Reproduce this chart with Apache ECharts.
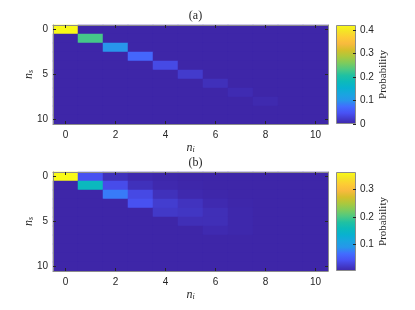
<!DOCTYPE html>
<html>
<head>
<meta charset="utf-8">
<script src="https://cdn.jsdelivr.net/npm/echarts@6/dist/echarts.min.js"></script>
<style>html,body{margin:0;padding:0;background:#fff}#c{width:415px;height:310px}</style>
</head>
<body>
<div id="c"></div>
<script>
// ---- data ----
var nLabels = ['0','1','2','3','4','5','6','7','8','9','10'];
var panelTitles = ['(a)', '(b)'];
// rows: n_s = 0..10, columns: n_i = 0..10
var probA = [
  [0.420,0,0,0,0,0,0,0,0,0,0],
  [0,0.228,0,0,0,0,0,0,0,0,0],
  [0,0,0.100,0,0,0,0,0,0,0,0],
  [0,0,0,0.068,0,0,0,0,0,0,0],
  [0,0,0,0,0.038,0,0,0,0,0,0],
  [0,0,0,0,0,0.022,0,0,0,0,0],
  [0,0,0,0,0,0,0.011,0,0,0,0],
  [0,0,0,0,0,0,0,0.006,0,0,0],
  [0,0,0,0,0,0,0,0,0.004,0,0],
  [0,0,0,0,0,0,0,0,0,0,0],
  [0,0,0,0,0,0,0,0,0,0,0]
];
var probB = [
  [0.365,0.040,0.011,0.004,0.002,0.001,0.001,0.001,0.001,0.001,0.001],
  [0.001,0.153,0.036,0.011,0.004,0.002,0.001,0.001,0.001,0.001,0.001],
  [0.001,0.001,0.073,0.033,0.011,0.004,0.002,0.001,0.001,0.001,0.001],
  [0.001,0.001,0.001,0.040,0.022,0.013,0.005,0.002,0.001,0.001,0.001],
  [0.001,0.001,0.001,0.001,0.018,0.015,0.009,0.003,0.001,0.001,0.001],
  [0.001,0.001,0.001,0.001,0.001,0.009,0.009,0.003,0.001,0.001,0.001],
  [0.001,0.001,0.001,0.001,0.001,0.001,0.005,0.003,0.001,0.001,0.001],
  [0.001,0.001,0.001,0.001,0.001,0.001,0.001,0.001,0.001,0.001,0.001],
  [0.001,0.001,0.001,0.001,0.001,0.001,0.001,0.001,0.001,0.001,0.001],
  [0.001,0.001,0.001,0.001,0.001,0.001,0.001,0.001,0.001,0.001,0.001],
  [0.001,0.001,0.001,0.001,0.001,0.001,0.001,0.001,0.001,0.001,0.001]
];
var colorRangeA = [0, 0.4225];
var colorRangeB = [0.001, 0.365];
var colorbarTicks = [0.1, 0.2, 0.3, 0.4];

// parula colormap stops
var parula = [
  [0.000,'rgb(62,38,168)'],[0.111,'rgb(72,82,244)'],[0.175,'rgb(66,108,255)'],
  [0.238,'rgb(39,150,235)'],[0.302,'rgb(25,165,224)'],[0.365,'rgb(8,177,208)'],
  [0.429,'rgb(12,186,186)'],[0.492,'rgb(32,193,162)'],[0.556,'rgb(81,201,128)'],
  [0.619,'rgb(128,203,91)'],[0.683,'rgb(172,200,61)'],[0.746,'rgb(212,191,43)'],
  [0.810,'rgb(248,186,62)'],[0.873,'rgb(253,203,53)'],[0.937,'rgb(245,227,39)'],
  [1.000,'rgb(249,251,21)']
];

function toCells(m){
  var out=[];
  for(var s=0;s<m.length;s++) for(var i=0;i<m[s].length;i++) out.push([i,s,m[s][i]]);
  return out;
}
function parulaColors(n){
  var cols=[];
  function parse(c){return c.match(/\d+/g).map(Number);}
  for(var k=0;k<n;k++){
    var t=k/(n-1), j=0;
    while(j<parula.length-2 && parula[j+1][0]<t) j++;
    var a=parula[j], b=parula[j+1], f=(t-a[0])/(b[0]-a[0]);
    var ca=parse(a[1]), cb=parse(b[1]);
    cols.push('rgb('+ca.map(function(v,q){return Math.round(v+(cb[q]-v)*f);}).join(',')+')');
  }
  return cols;
}
var pal = parulaColors(64);
var grad = new echarts.graphic.LinearGradient(0,1,0,0, parula.map(function(p){return {offset:p[0], color:p[1]};}));

var txt = '#262626', boxCol = '#8c8c8c';
var sans = 'Liberation Sans', serif = 'Liberation Serif';
var richName = {
  n:{fontFamily:serif,fontStyle:'italic',fontSize:12,color:txt},
  s:{fontFamily:serif,fontStyle:'italic',fontSize:8,color:txt,padding:[5,0,0,0]}
};
var tops=[25,172], H=99, L=53, W=275;

var grids=[], xAxes=[], yAxes=[], series=[], visualMaps=[], titles=[];
[0,1].forEach(function(p){
  grids.push({left:L, top:tops[p], width:W, height:H});
  titles.push({text:panelTitles[p], left:L+W/2, top:tops[p]-20, textAlign:'center',
    textStyle:{fontFamily:serif,fontWeight:'normal',fontSize:12,color:txt}});
  var gi=p;
  xAxes.push({type:'category', gridIndex:gi, data:nLabels, position:'bottom', z:10,
    axisLine:{show:true,lineStyle:{color:boxCol,width:1}},
    axisTick:{show:true,inside:true,alignWithLabel:true,interval:1,length:3,lineStyle:{color:txt}},
    axisLabel:{interval:1,margin:6,fontSize:10,fontFamily:sans,color:txt},
    splitLine:{show:false}, splitArea:{show:false},
    name:'{n|n}{s|i}', nameLocation:'middle', nameGap:17, nameTextStyle:{rich:richName}});
  xAxes.push({type:'category', gridIndex:gi, data:nLabels, position:'top', z:10,
    axisLine:{show:true,lineStyle:{color:boxCol,width:1}},
    axisTick:{show:true,inside:true,alignWithLabel:true,interval:1,length:3,lineStyle:{color:txt}},
    axisLabel:{show:false}, splitLine:{show:false}, splitArea:{show:false}});
  yAxes.push({type:'category', gridIndex:gi, data:nLabels, inverse:true, position:'left', z:10,
    axisLine:{show:true,lineStyle:{color:boxCol,width:1}},
    axisTick:{show:true,inside:true,alignWithLabel:true,interval:4,length:3,lineStyle:{color:txt}},
    axisLabel:{interval:4,margin:5,fontSize:10,fontFamily:sans,color:txt},
    splitLine:{show:false}, splitArea:{show:false},
    name:'{n|n}{s|s}', nameLocation:'middle', nameGap:18, nameRotate:90, nameMoveOverlap:false,
    nameTextStyle:{rich:richName}});
  yAxes.push({type:'category', gridIndex:gi, data:nLabels, inverse:true, position:'right', z:10,
    axisLine:{show:true,lineStyle:{color:boxCol,width:1}},
    axisTick:{show:true,inside:true,alignWithLabel:true,interval:4,length:3,lineStyle:{color:txt}},
    axisLabel:{show:false}, splitLine:{show:false}, splitArea:{show:false}});
  series.push({type:'heatmap', xAxisIndex:p*2, yAxisIndex:p*2, data:toCells(p===0?probA:probB),
    progressive:0, emphasis:{disabled:true}, silent:true});
});

var ranges=[colorRangeA, colorRangeB];
[0,1].forEach(function(p){
  var gi=2+p;
  grids.push({left:336, top:tops[p], width:20, height:H});
  xAxes.push({type:'category', gridIndex:gi, data:['c'], show:false});
  yAxes.push({type:'value', gridIndex:gi, position:'right', min:0, max:ranges[p][1], interval:0.1, z:10,
    axisLine:{show:false},
    axisTick:{show:true,inside:true,length:3,lineStyle:{color:txt}},
    axisLabel:{margin:4,fontSize:10,fontFamily:sans,color:txt,showMaxLabel:false,showMinLabel:p===0,
      formatter:function(v){return colorbarTicks.concat([0]).some(function(t){return Math.abs(t-v)<1e-9;})?String(+v.toFixed(1)):'';}},
    splitLine:{show:false},
    name:'Probability', nameLocation:'middle', nameRotate:90, nameGap:21,
    nameTextStyle:{fontFamily:serif,fontSize:11,color:txt}});
  series.push({type:'bar', xAxisIndex:4+p, yAxisIndex:4+p, data:[ranges[p][1]], barWidth:'100%',
    silent:true, itemStyle:{color:grad, borderColor:boxCol, borderWidth:1}});
  visualMaps.push({type:'continuous', show:false, seriesIndex:p, min:ranges[p][0], max:ranges[p][1],
    inRange:{color:pal}});
});

var chart = echarts.init(document.getElementById('c'), null, {renderer:'canvas'});
chart.setOption({
  animation:false,
  backgroundColor:'#fff',
  title:titles, grid:grids, xAxis:xAxes, yAxis:yAxes, visualMap:visualMaps, series:series
});
</script>
</body>
</html>
